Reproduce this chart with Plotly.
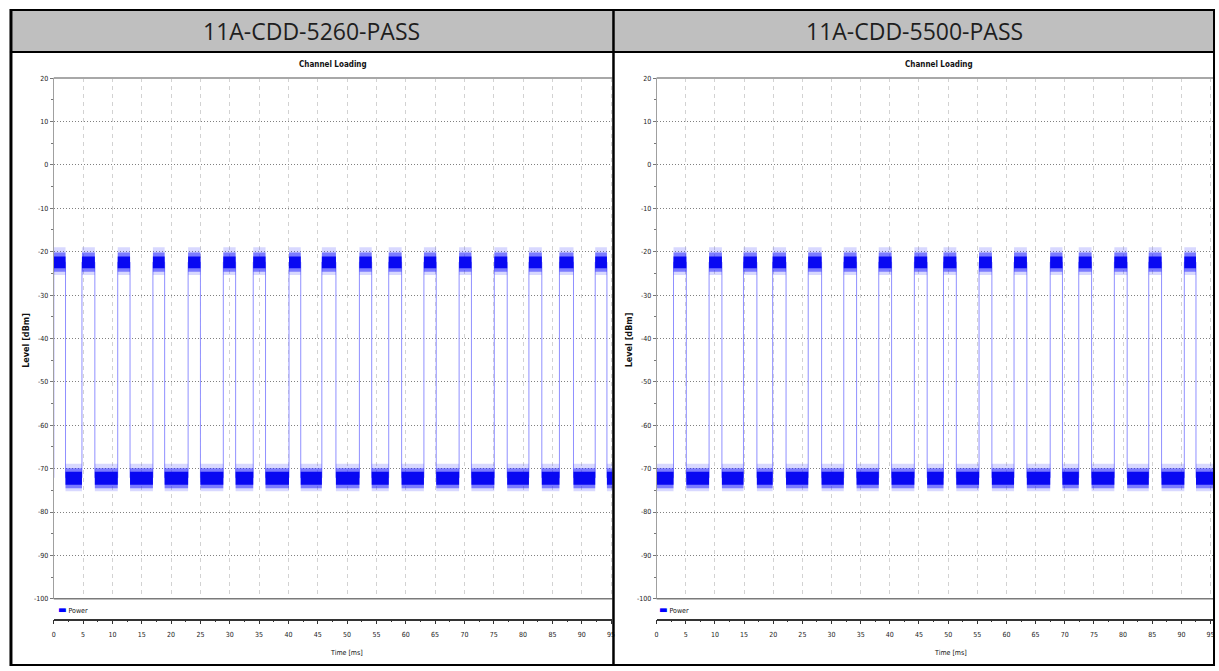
import plotly.graph_objects as go

W, H = 1219, 671

# ---- data -------------------------------------------------------------
CELL_TITLES = ["11A-CDD-5260-PASS", "11A-CDD-5500-PASS"]
CHART_TITLE = "Channel Loading"
SERIES_NAME = "Power"
Y_TITLE = "Level [dBm]"
X_TITLE = "Time [ms]"
Y_TICKS = [20, 10, 0, -10, -20, -30, -40, -50, -60, -70, -80, -90, -100]
X_TICKS = [0, 5, 10, 15, 20, 25, 30, 35, 40, 45, 50, 55, 60, 65, 70, 75, 80, 85, 90, 95]

# transmit-on bursts (ms)
ON_START_5260 = [0.0, 4.8, 10.9, 16.9, 22.9, 28.9, 34.0, 40.1, 45.7, 52.1, 57.1,
                 63.1, 69.1, 75.1, 81.0, 86.2, 92.3]
ON_END_5260 = [2.0, 7.0, 13.0, 18.9, 25.0, 31.0, 36.1, 42.1, 48.1, 54.2, 59.3,
               65.2, 71.2, 77.3, 83.2, 88.6, 94.3]
ON_START_5500 = [2.9, 9.0, 14.9, 19.9, 26.0, 32.1, 38.1, 44.2, 49.2, 55.3, 61.3,
                 67.5, 72.4, 78.5, 84.4, 90.5]
ON_END_5500 = [5.1, 11.2, 17.2, 22.2, 28.3, 34.3, 40.3, 46.4, 51.4, 57.5, 63.5,
               69.6, 74.6, 80.7, 86.6, 92.5]
SWEEP_END_MS = 97.0

# power levels (dBm): nominal level, then noise envelopes from widest to densest
ON_LEVEL = -22.4
OFF_LEVEL = -72.1
ON_BANDS = [[-19.0, -25.4], [-20.2, -24.6], [-21.1, -23.8]]
OFF_BANDS = [[-68.9, -75.2], [-69.9, -74.5], [-70.7, -73.7]]
BAND_FILLS = ["rgba(60,60,255,0.2)", "rgba(30,30,255,0.5)", "#0808f2"]

# ---- helpers ----------------------------------------------------------
def fx(px):
    return px / W


def fy(py):
    return 1 - py / H


def step_trace(starts, ends):
    xs, ys = [0.0], [OFF_LEVEL]
    for s, e in zip(starts, ends):
        xs += [s, s, e, e]
        ys += [OFF_LEVEL, ON_LEVEL, ON_LEVEL, OFF_LEVEL]
    xs.append(SWEEP_END_MS)
    ys.append(OFF_LEVEL)
    return xs, ys


def band(segments, lo_hi):
    lo, hi = lo_hi
    xs, ys = [], []
    for s, e in segments:
        xs += [s, e, e, s, s, None]
        ys += [lo, lo, hi, hi, lo, None]
    return xs, ys


def off_segments(starts, ends):
    segs = []
    t = 0.0
    for s, e in zip(starts, ends):
        if s > t:
            segs.append((t, s))
        t = e
    segs.append((t, SWEEP_END_MS))
    return segs


fig = go.Figure()

charts = [
    dict(starts=ON_START_5260, ends=ON_END_5260, x0=52.0, x1=613.0, scale=5.89,
         xa="x", ya="y"),
    dict(starts=ON_START_5500, ends=ON_END_5500, x0=657.3, x1=1216.0, scale=5.855,
         xa="x2", ya="y2"),
]

BLUE = "#0000ff"
for c in charts:
    # on/off transitions
    sx, sy = step_trace(c["starts"], c["ends"])
    fig.add_trace(go.Scatter(x=sx, y=sy, xaxis=c["xa"], yaxis=c["ya"], mode="lines",
                             line=dict(color="#9090ff", width=1), showlegend=False,
                             name=SERIES_NAME))
    on_segs = list(zip(c["starts"], c["ends"]))
    off_segs = off_segments(c["starts"], c["ends"])
    for segs, bands in [(on_segs, ON_BANDS), (off_segs, OFF_BANDS)]:
        for lim, fill in zip(bands, BAND_FILLS):
            bx, by = band(segs, lim)
            fig.add_trace(go.Scatter(x=bx, y=by, xaxis=c["xa"], yaxis=c["ya"], mode="lines",
                                     fill="toself", fillcolor=fill,
                                     line=dict(width=0), hoverinfo="skip", showlegend=False))

NARROW = "Liberation Sans Narrow, DejaVu Sans Condensed, Arial Narrow, sans-serif"
TICK_FONT = dict(family=NARROW, size=7, color="#222")

layout = dict(
    width=W, height=H, margin=dict(l=0, r=0, t=0, b=0),
    paper_bgcolor="white", plot_bgcolor="white", showlegend=False,
    annotations=[], shapes=[],
)


def note(text, x, y, size, family=NARROW, color="#111", angle=0, xanchor="center"):
    return dict(text=text, xref="paper", yref="paper", x=fx(x), y=fy(y),
                xanchor=xanchor, yanchor="middle", showarrow=False, textangle=angle,
                font=dict(family=family, size=size, color=color))


for i, c in enumerate(charts):
    xname = "xaxis" if i == 0 else "xaxis2"
    yname = "yaxis" if i == 0 else "yaxis2"
    xr = (c["x1"] - c["x0"]) / c["scale"]
    layout[xname] = dict(
        domain=[fx(c["x0"]), fx(c["x1"])], range=[0, xr], anchor="free", position=fy(623),
        showline=True, linecolor="#333", linewidth=1.5, ticks="outside", ticklen=4,
        tickcolor="#333", tickvals=X_TICKS, ticktext=[str(v) for v in X_TICKS],
        tickfont=TICK_FONT, ticklabelstandoff=4, showgrid=True,
        gridcolor="#d2d2d2", griddash="4px,4px", gridwidth=1, zeroline=False,
        minor=dict(dtick=2.5, tick0=0, ticks="outside", ticklen=2, tickcolor="#333", showgrid=False),
    )
    layout[yname] = dict(
        domain=[fy(602), fy(75)], range=[-100, 20], anchor=c["xa"],
        showline=True, linecolor="#a0a0a0", linewidth=1, ticks="outside", ticklen=3,
        tickcolor="#777", tickvals=Y_TICKS, ticktext=[str(v) for v in Y_TICKS],
        tickfont=TICK_FONT, showgrid=True,
        gridcolor="#808080", griddash="1px,2px", gridwidth=1, zeroline=False,
        minor=dict(dtick=5, tick0=0, ticks="outside", ticklen=2, tickcolor="#777", showgrid=False),
    )

    # plot frame top / bottom
    layout["shapes"] += [
        dict(type="line", xref="paper", yref="paper", x0=fx(c["x0"]), x1=fx(c["x1"]),
             y0=fy(75), y1=fy(75), line=dict(color="#a8a8a8", width=2)),
        dict(type="line", xref="paper", yref="paper", x0=fx(c["x0"]), x1=fx(c["x1"]),
             y0=fy(602), y1=fy(602), line=dict(color="#7a7a7a", width=1.5)),
    ]

    lx = [54, 658][i]
    layout["annotations"] += [
        note("<b>" + CHART_TITLE + "</b>", [332, 941][i], 61, 8),
        note("<b>" + Y_TITLE + "</b>", [24, 630][i], 340, 9, angle=-90),
        note(X_TITLE, [346, 952][i], 657, 7),
        note(CELL_TITLES[i], [311, 916][i], 27, 23,
             family="Open Sans, Noto Sans, sans-serif", color="#1e1e1e"),
        note('<span style="color:%s;font-size:10px">▬</span> %s' % (BLUE, SERIES_NAME),
             lx, 613, 7, xanchor="left"),
    ]

# table: header band and cell borders
layout["shapes"] = [
    dict(type="rect", xref="paper", yref="paper", x0=fx(9), x1=fx(1217), y0=fy(48), y1=fy(6),
         fillcolor="#bfbfbf", line=dict(width=0), layer="below"),
] + layout["shapes"] + [
    dict(type="line", xref="paper", yref="paper", x0=fx(8), x1=fx(1218), y0=fy(6), y1=fy(6),
         line=dict(color="black", width=2)),
    dict(type="line", xref="paper", yref="paper", x0=fx(8), x1=fx(1218), y0=fy(48.5), y1=fy(48.5),
         line=dict(color="black", width=2)),
    dict(type="line", xref="paper", yref="paper", x0=fx(8), x1=fx(1218), y0=fy(669), y1=fy(669),
         line=dict(color="black", width=2)),
    dict(type="line", xref="paper", yref="paper", x0=fx(9), x1=fx(9), y0=fy(5), y1=fy(670),
         line=dict(color="black", width=3)),
    dict(type="line", xref="paper", yref="paper", x0=fx(614), x1=fx(614), y0=fy(5), y1=fy(670),
         line=dict(color="black", width=2.5)),
    dict(type="line", xref="paper", yref="paper", x0=fx(1217), x1=fx(1217), y0=fy(5), y1=fy(670),
         line=dict(color="black", width=2)),
]

fig.update_layout(**layout)
fig.write_html("out.html")
